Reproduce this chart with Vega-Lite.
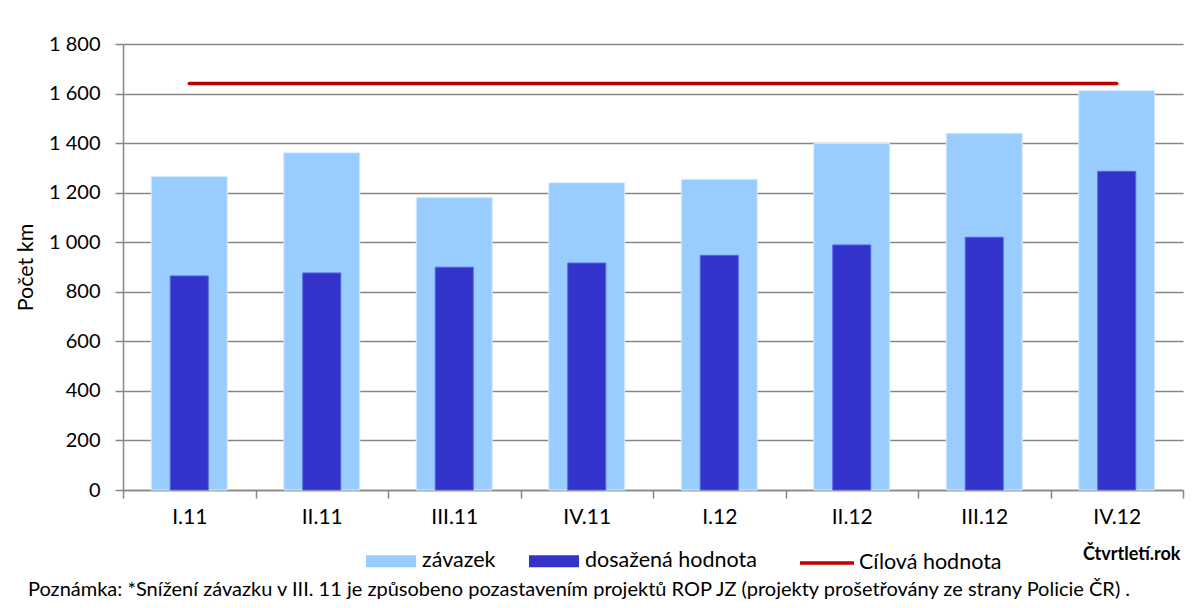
{
  "$schema": "https://vega.github.io/schema/vega-lite/v6.json",
  "width": 1060,
  "height": 446,
  "autosize": {"type": "none"},
  "padding": {"left": 123, "top": 44, "right": 20, "bottom": 118},
  "background": "white",
  "data": {
    "values": [
      {"obdobi": "I.11", "zavazek": 1265, "dosazena": 864, "cil": 1641},
      {"obdobi": "II.11", "zavazek": 1361, "dosazena": 876, "cil": 1641},
      {"obdobi": "III.11", "zavazek": 1181, "dosazena": 899, "cil": 1641},
      {"obdobi": "IV.11", "zavazek": 1240, "dosazena": 916, "cil": 1641},
      {"obdobi": "I.12", "zavazek": 1254, "dosazena": 947, "cil": 1641},
      {"obdobi": "II.12", "zavazek": 1398, "dosazena": 989, "cil": 1641},
      {"obdobi": "III.12", "zavazek": 1440, "dosazena": 1020, "cil": 1641},
      {"obdobi": "IV.12", "zavazek": 1612, "dosazena": 1286, "cil": 1641}
    ]
  },
  "title": {
    "text": "Poznámka: *Snížení závazku v III. 11 je  způsobeno pozastavením projektů  ROP JZ (projekty prošetřovány ze strany Policie ČR) .",
    "orient": "bottom",
    "anchor": "start",
    "frame": "group",
    "dx": -95,
    "offset": 0,
    "dy": 6,
    "font": "Lato",
    "fontSize": 20,
    "fontWeight": "normal",
    "color": "#000000"
  },
  "config": {
    "view": {"stroke": null},
    "font": "Lato",
    "axis": {
      "labelFont": "Lato",
      "titleFont": "Lato",
      "labelColor": "#000000",
      "titleColor": "#000000",
      "domainColor": "#868686",
      "tickColor": "#868686",
      "gridColor": "#868686",
      "domainWidth": 1.5,
      "tickWidth": 1.5,
      "gridWidth": 1.5
    },
    "legend": {"labelFont": "Lato", "labelColor": "#000000", "labelFontSize": 21.5, "labelLimit": 400}
  },
  "encoding": {
    "x": {
      "field": "obdobi",
      "type": "nominal",
      "sort": null,
      "scale": {"paddingInner": 0, "paddingOuter": 0},
      "axis": {
        "title": "Čtvrtletí.rok",
        "titleFontWeight": "bold",
        "titleFontSize": 18,
        "titleAnchor": "end",
        "titleAlign": "right",
        "titleBaseline": "middle",
        "titleX": 1057,
        "titleY": 64,
        "labelAngle": 0,
        "labelFontSize": 21,
        "labelPadding": 8,
        "tickSize": 8,
        "tickBand": "extent",
        "grid": false
      }
    }
  },
  "layer": [
    {
      "mark": {"type": "bar", "width": {"band": 0.574}, "stroke": "#D9ECFF", "strokeWidth": 1},
      "encoding": {
        "y": {
          "field": "zavazek",
          "type": "quantitative",
          "scale": {"domain": [0, 1800], "nice": false},
          "axis": {
            "title": "Počet km",
            "titleFontSize": 21.5,
            "titleFontWeight": "normal",
            "titleAngle": -90,
            "titleAlign": "center",
            "titleBaseline": "middle",
            "titleX": -97,
            "titleY": 223,
            "values": [0, 200, 400, 600, 800, 1000, 1200, 1400, 1600, 1800],
            "labelExpr": "replace(format(datum.value, ','), ',', ' ')",
            "labelFontSize": 20,
            "labelPadding": 15,
            "tickSize": 8,
            "grid": true
          }
        },
        "fill": {
          "datum": "závazek",
          "scale": {
            "domain": ["závazek", "dosažená hodnota"],
            "range": ["#99CCFF", "#3333CC"]
          },
          "legend": {
            "title": null,
            "orient": "none",
            "direction": "horizontal",
            "legendX": 243,
            "legendY": 492,
            "labelOffset": 6,
            "columnPadding": 33,
            "symbolType": "M-1,-0.24H1V0.24H-1Z",
            "symbolSize": 2500,
            "symbolStrokeWidth": 0
          }
        }
      }
    },
    {
      "mark": {"type": "bar", "width": {"band": 0.287}, "stroke": "#5566DD", "strokeWidth": 1},
      "encoding": {
        "y": {"field": "dosazena", "type": "quantitative"},
        "fill": {"datum": "dosažená hodnota"}
      }
    },
    {
      "mark": {"type": "line", "strokeWidth": 3.5, "strokeCap": "round"},
      "encoding": {
        "y": {"field": "cil", "type": "quantitative"},
        "stroke": {
          "datum": "Cílová hodnota",
          "scale": {"domain": ["Cílová hodnota"], "range": ["#C00000"]},
          "legend": {
            "title": null,
            "orient": "none",
            "direction": "horizontal",
            "legendX": 675,
            "legendY": 490,
            "labelOffset": 3,
            "symbolType": "stroke",
            "symbolSize": 2916,
            "symbolStrokeWidth": 3.5
          }
        }
      }
    }
  ]
}
